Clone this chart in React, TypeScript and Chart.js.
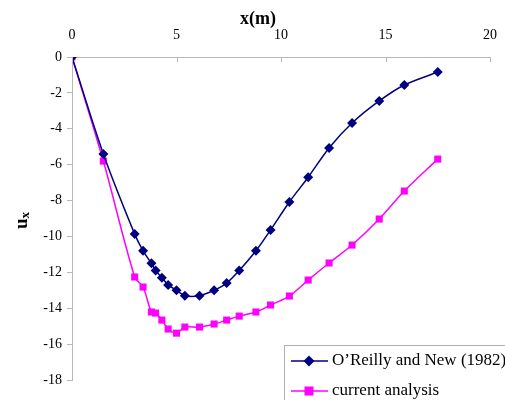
import React, { useEffect, useRef } from "react";
import { Chart, registerables } from "chart.js";

Chart.register(...registerables);

const xValues = [0, 1.5, 3, 3.4, 3.8, 4, 4.3, 4.6, 5, 5.4, 6.1, 6.8, 7.4, 8, 8.8, 9.5, 10.4, 11.3, 12.3, 13.4, 14.7, 15.9, 17.5];
const oreillyValues = [0, -5.4, -9.87, -10.8, -11.5, -11.9, -12.3, -12.7, -13.0, -13.3, -13.3, -13.0, -12.6, -11.9, -10.8, -9.64, -8.08, -6.7, -5.07, -3.68, -2.45, -1.56, -0.84];
const currentValues = [0, -5.8, -12.26, -12.82, -14.21, -14.27, -14.66, -15.16, -15.39, -15.05, -15.05, -14.88, -14.66, -14.44, -14.21, -13.82, -13.32, -12.43, -11.48, -10.48, -9.03, -7.47, -5.69];
const seriesNames = ["O\u2019Reilly and New (1982)", "current analysis"];
const xTitle = "x(m)";
const yTitleMain = "u";
const yTitleSub = "x";

const NAVY = "#000080";
const MAGENTA = "#FF00FF";
const AXIS = "#b8b8b8";
const FONT = "'Liberation Serif', 'Times New Roman', serif";

const overlayPlugin = {
  id: "overlay",
  afterDraw(chart: any) {
    const ctx = chart.ctx;
    const area = chart.chartArea;
    ctx.save();
    // inward x ticks
    const xs = chart.scales.x;
    ctx.strokeStyle = AXIS;
    ctx.lineWidth = 1;
    xs.ticks.forEach((t: any) => {
      const px = Math.round(xs.getPixelForValue(t.value)) + 0.5;
      ctx.beginPath();
      ctx.moveTo(px, area.top);
      ctx.lineTo(px, area.top + 5);
      ctx.stroke();
    });
    // x title
    ctx.fillStyle = "#000";
    ctx.font = `bold 18px ${FONT}`;
    ctx.textAlign = "center";
    ctx.textBaseline = "middle";
    ctx.fillText(xTitle, area.left + 186, area.top - 38);
    // y title rotated with subscript
    ctx.save();
    ctx.translate(area.left - 50, (area.top + area.bottom) / 2 + 2);
    ctx.rotate(-Math.PI / 2);
    ctx.textAlign = "left";
    ctx.textBaseline = "middle";
    ctx.font = `bold 19px ${FONT}`;
    const w1 = ctx.measureText(yTitleMain).width;
    ctx.font = `bold 13px ${FONT}`;
    const w2 = ctx.measureText(yTitleSub).width;
    const start = -(w1 + w2) / 2;
    ctx.font = `bold 19px ${FONT}`;
    ctx.fillText(yTitleMain, start, 0);
    ctx.font = `bold 13px ${FONT}`;
    ctx.fillText(yTitleSub, start + w1, 4);
    ctx.restore();

    // legend
    const bx = area.left + 212;
    const by = area.bottom - 35;
    ctx.fillStyle = "#fff";
    ctx.fillRect(bx, by, 260, 100);
    ctx.strokeStyle = "#b0b0b0";
    ctx.lineWidth = 1;
    ctx.strokeRect(bx + 0.5, by + 0.5, 260, 100);
    const rows = [
      { color: NAVY, shape: "diamond", y: by + 16 },
      { color: MAGENTA, shape: "square", y: by + 46 },
    ];
    rows.forEach((r, i) => {
      ctx.strokeStyle = r.color;
      ctx.lineWidth = 1.5;
      ctx.beginPath();
      ctx.moveTo(bx + 7, r.y);
      ctx.lineTo(bx + 44, r.y);
      ctx.stroke();
      ctx.fillStyle = r.color;
      const cx = bx + 25;
      if (r.shape === "diamond") {
        ctx.beginPath();
        ctx.moveTo(cx, r.y - 5.5);
        ctx.lineTo(cx + 5.5, r.y);
        ctx.lineTo(cx, r.y + 5.5);
        ctx.lineTo(cx - 5.5, r.y);
        ctx.closePath();
        ctx.fill();
      } else {
        ctx.fillRect(cx - 4.5, r.y - 4.5, 9, 9);
      }
      ctx.fillStyle = "#000";
      ctx.font = `17px ${FONT}`;
      ctx.textAlign = "left";
      ctx.textBaseline = "middle";
      ctx.fillText(seriesNames[i], bx + 48, r.y);
    });
    ctx.restore();
  },
};

export default function App() {
  const ref = useRef<HTMLCanvasElement | null>(null);
  useEffect(() => {
    if (!ref.current) return;
    const chart = new Chart(ref.current, {
      type: "line",
      data: {
        datasets: [
          {
            label: seriesNames[0],
            data: xValues.map((x, i) => ({ x, y: oreillyValues[i] })),
            borderColor: NAVY,
            backgroundColor: NAVY,
            borderWidth: 1.5,
            pointStyle: "rectRot",
            pointRadius: 5,
            pointBorderWidth: 0,
            tension: 0.3,
          },
          {
            label: seriesNames[1],
            data: xValues.map((x, i) => ({ x, y: currentValues[i] })),
            borderColor: MAGENTA,
            backgroundColor: MAGENTA,
            borderWidth: 1.5,
            pointStyle: "rect",
            pointRadius: 5,
            pointBorderWidth: 0,
            tension: 0.3,
          },
        ],
      },
      options: {
        animation: false,
        responsive: false,
        layout: { padding: { left: 0, top: 0, right: 15, bottom: 20 } },
        plugins: { legend: { display: false }, tooltip: { enabled: false } },
        scales: {
          x: {
            type: "linear",
            position: "top",
            min: 0,
            max: 20,
            ticks: { stepSize: 5, color: "#000", font: { family: FONT, size: 14 }, padding: 13 },
            grid: { drawOnChartArea: false, drawTicks: false, color: AXIS },
            border: { color: AXIS },
            afterFit(scale: any) {
              scale.height = 57;
              scale.paddingLeft = 0;
              scale.paddingRight = 0;
            },
          },
          y: {
            type: "linear",
            min: -18,
            max: 0,
            ticks: { stepSize: 2, color: "#000", font: { family: FONT, size: 14 }, padding: 5 },
            grid: { drawOnChartArea: false, drawTicks: true, tickLength: 5, color: AXIS },
            border: { color: AXIS },
            afterFit(scale: any) {
              scale.width = 72;
              scale.paddingTop = 0;
              scale.paddingBottom = 0;
            },
          },
        },
      },
      plugins: [overlayPlugin],
    } as any);
    return () => chart.destroy();
  }, []);
  return (
    <div style={{ position: "fixed", left: 0, top: 0, width: 505, height: 400, background: "#fff" }}>
      <canvas ref={ref} width={505} height={400} style={{ width: 505, height: 400 }} />
    </div>
  );
}
